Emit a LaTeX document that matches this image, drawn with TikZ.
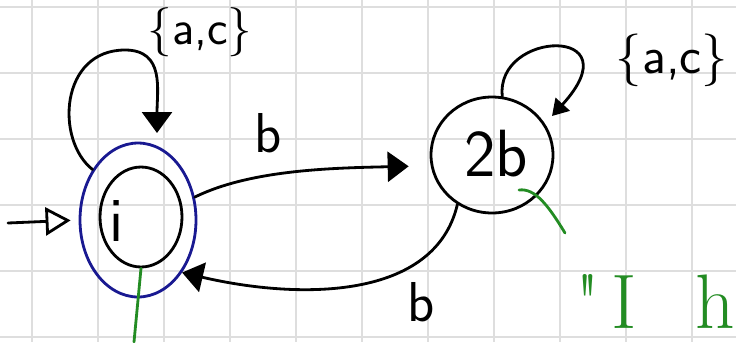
\documentclass[tikz,border=0pt]{standalone}
\usepackage{tikz}
\usetikzlibrary{arrows.meta,shapes.geometric}

\definecolor{penblue}{RGB}{25,25,145}
\definecolor{pengreen}{RGB}{35,140,35}
\definecolor{gridgray}{RGB}{222,222,222}

\tikzset{
  pen/.style={line width=1.6pt, line cap=round, line join=round},
  state/.style={ellipse, draw, pen, inner sep=0pt},
  hand/.style={font=\sffamily\fontsize{32}{32}\selectfont, inner sep=0pt},
  fill tip/.style={-{Triangle[length=0.42cm,width=0.6cm]}},
}

\begin{document}
\begin{tikzpicture}[x=0.02cm,y=-0.02cm]
\useasboundingbox (0,0) rectangle (736,342);
\clip (0,0) rectangle (736,342);

% Squared paper
\foreach \x in {32,98,...,692}
{
\draw[gridgray,line width=1.1pt] (\x,0)--(\x,342);
}
\foreach \y in {7,73,...,337}
{
\draw[gridgray,line width=1.1pt] (0,\y)--(736,\y);
}

% States
\node[state, minimum width=1.64cm, minimum height=2cm] (i) at (141,217) {};
\node[state, draw=penblue, minimum width=2.32cm, minimum height=3.08cm] (iacc) at (138,220) {};
\node[hand, font=\sffamily\fontsize{36}{36}\selectfont] (ilabel) at (117,221) {i};
\node[state, minimum width=2.44cm, minimum height=2.32cm] (twob) at (492,155) {};
\node[hand, font=\sffamily\fontsize{38}{38}\selectfont] (twoblabel) at (496,154) {2b};

% Start arrow
\coordinate (start) at (8,223);
\draw[pen, -{Triangle[open,length=0.5cm,width=0.56cm]}, shorten >=0.16cm] (start) -- (iacc.west);

% Loop on i
\coordinate (iloopend) at (157,133);
\draw[pen, fill tip] (iacc.132) .. controls (55,140) and (60,50) .. (125,50) .. controls (165,50) and (157,90) .. (iloopend);
\node[hand, font=\sffamily\fontsize{28}{28}\selectfont] (iloop) at (200,32) {\{a,c\}};

% Edges labelled b
\draw[pen, fill tip, shorten >=0.44cm] (iacc.22) .. controls (250,170) and (330,168) .. (twob.190);
\node[hand] (bup) at (268,133) {b};
\draw[pen, fill tip] (twob.235) .. controls (435,300) and (300,300) .. (iacc.-50);
\node[hand] (bdown) at (421,302) {b};

% Loop on 2b
\coordinate (twoloopend) at (552,116);
\draw[pen, -{Triangle[length=0.32cm,width=0.38cm]}] (twob.80) .. controls (495,30) and (635,25) .. (twoloopend);
\node[hand, font=\sffamily\fontsize{30}{30}\selectfont] (twoloop) at (672,60) {\{a,c\}};

% Green notes
\coordinate (gone) at (134,342);
\draw[pen, pengreen] (i.south) -- (gone);
\coordinate (gtwo) at (519,190);
\coordinate (gthree) at (565,233);
\draw[pen, pengreen] (gtwo) .. controls (535,188) and (548,205) .. (gthree);
\node[inner sep=0pt, anchor=base west, text=pengreen, font=\fontsize{44}{44}\selectfont] (note) at (575,328) {\textquotedbl\hspace{0.15em}I\hspace{0.75em}ho};

\end{tikzpicture}
\end{document}
